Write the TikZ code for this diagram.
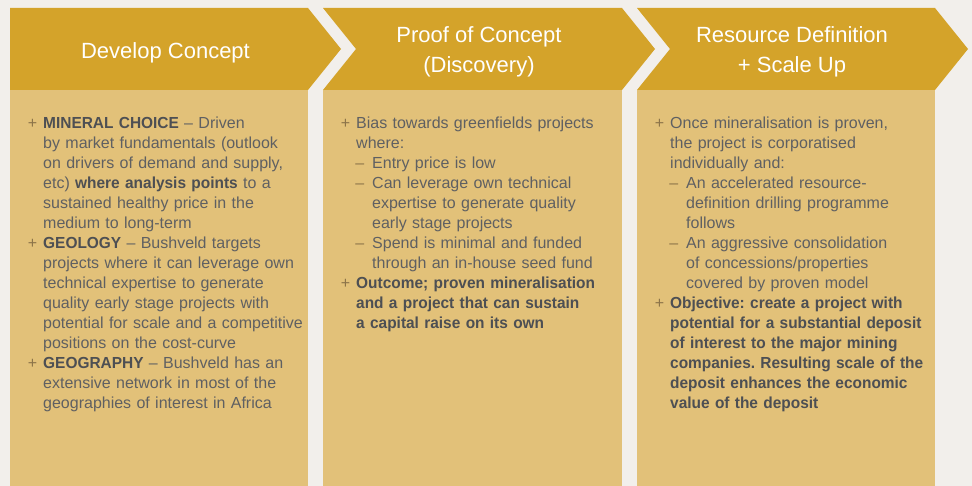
\documentclass[tikz,border=0pt]{standalone}
\usepackage{fontspec}
\setmainfont[BoldFeatures={FakeStretch=0.965}]{Liberation Sans}

\definecolor{pagebg}{HTML}{F2EFEB}
\definecolor{stagegold}{HTML}{D4A32A}
\definecolor{panelgold}{HTML}{E2C179}
\definecolor{bodytext}{HTML}{5F6062}
\definecolor{boldtext}{HTML}{4D4F53}
\definecolor{bulletmark}{HTML}{8C7449}

% list helpers: main point with "+", sub point with an en dash
\newcommand\mainpt{\par\leftskip=33pt\noindent\llap{\textcolor{bulletmark}{+}\hspace{6pt}}\strut}
\newcommand\subpt{\par\leftskip=49pt\noindent\llap{\textcolor{bulletmark}{–}\hspace{8pt}}\strut}
\newcommand\hl[1]{{\bfseries\color{boldtext}#1}}

\tikzset{
  stage/.style={fill=stagegold},
  panel/.style={fill=panelgold},
  stagetitle/.style={anchor=north, inner sep=0pt, text=white, align=center,
    font=\fontsize{22}{30}\selectfont},
  panelbody/.style={anchor=north west, inner sep=0pt, text width=330pt,
    text=bodytext, font=\fontsize{16}{20}\selectfont\frenchspacing},
}

\begin{document}
\begin{tikzpicture}[x=1pt, y=-1pt]
  \useasboundingbox (0,0) rectangle (972,486);
  \fill[pagebg] (0,0) rectangle (972,486);

  % stage chevrons
  \fill[stage] (10,8) -- (308,8) -- (341,49) -- (308,90) -- (10,90) -- cycle;
  \fill[stage] (323,8) -- (622,8) -- (655,49) -- (622,90) -- (323,90) -- (356,49) -- cycle;
  \fill[stage] (637,8) -- (935,8) -- (968,49) -- (935,90) -- (637,90) -- (670,49) -- cycle;

  % detail panels
  \fill[panel] (10,90) rectangle (308,486);
  \fill[panel] (323,90) rectangle (622,486);
  \fill[panel] (637,90) rectangle (935,486);

  % stage titles
  \node[stagetitle] (develop) at (165.5,37) {\strut Develop Concept};
  \node[stagetitle] (proof) at (479,21) {\strut Proof of Concept\\(Discovery)};
  \node[stagetitle] (resource) at (792,21) {\strut Resource Definition\\+ Scale Up};

  % panel texts
  \node[panelbody] (developtext) at (10,108.5) {%
    \mainpt\hl{MINERAL CHOICE} – Driven\\
    by market fundamentals (outlook\\
    on drivers of demand and supply,\\
    etc) \hl{where analysis points} to a\\
    sustained healthy price in the\\
    medium to long-term
    \mainpt\hl{GEOLOGY} – Bushveld targets\\
    projects where it can leverage own\\
    technical expertise to generate\\
    quality early stage projects with\\
    potential for scale and a competitive\\
    positions on the cost-curve
    \mainpt\hl{GEOGRAPHY} – Bushveld has an\\
    extensive network in most of the\\
    geographies of interest in Africa\par};

  \node[panelbody] (prooftext) at (323,108.5) {%
    \mainpt Bias towards greenfields projects\\
    where:
    \subpt Entry price is low
    \subpt Can leverage own technical\\
    expertise to generate quality\\
    early stage projects
    \subpt Spend is minimal and funded\\
    through an in-house seed fund
    \mainpt\hl{Outcome; proven mineralisation\\
    and a project that can sustain\\
    a capital raise on its own}\par};

  \node[panelbody] (resourcetext) at (637,108.5) {%
    \mainpt Once mineralisation is proven,\\
    the project is corporatised\\
    individually and:
    \subpt An accelerated resource-\\
    definition drilling programme\\
    follows
    \subpt An aggressive consolidation\\
    of concessions/properties\\
    covered by proven model
    \mainpt\hl{Objective: create a project with\\
    potential for a substantial deposit\\
    of interest to the major mining\\
    companies. Resulting scale of the\\
    deposit enhances the economic\\
    value of the deposit}\par};
\end{tikzpicture}
\end{document}
